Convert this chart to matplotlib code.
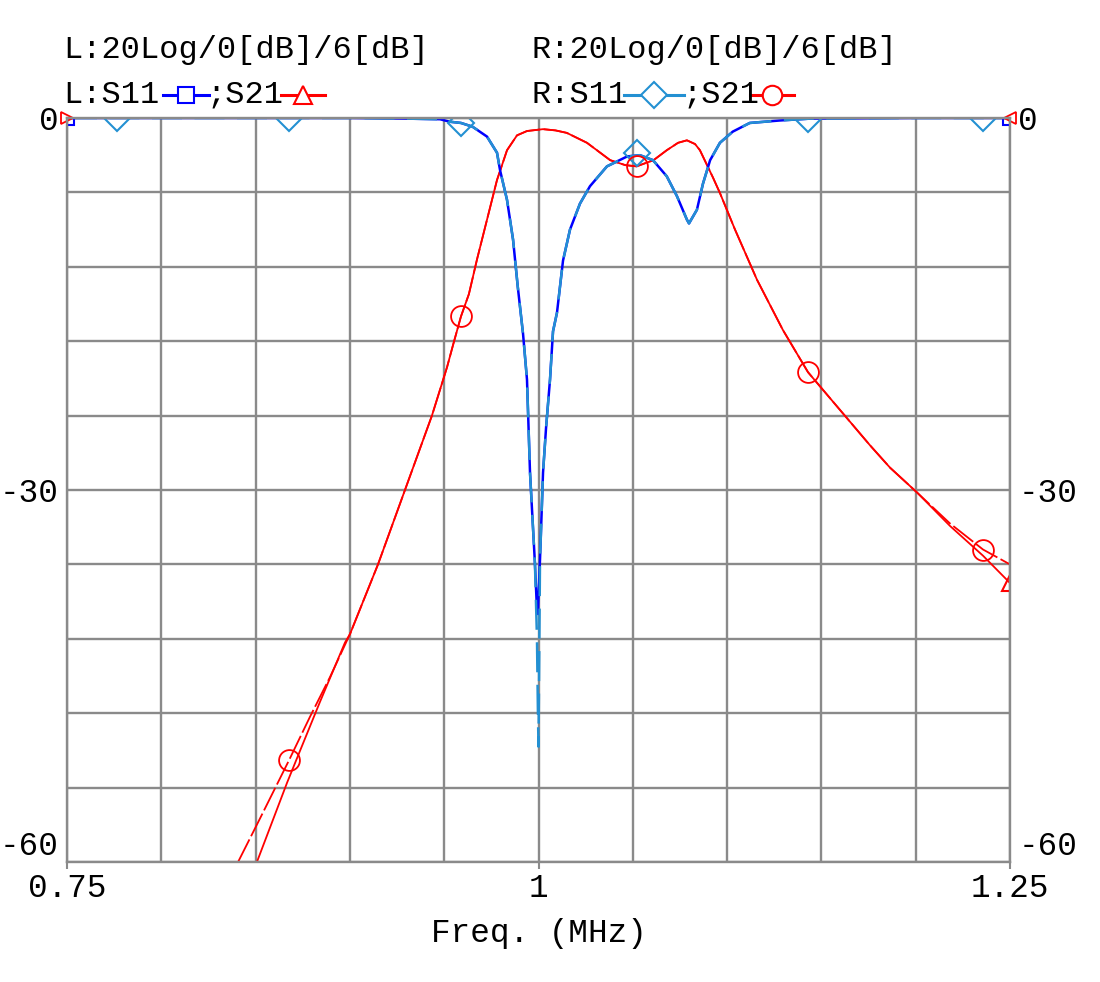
import matplotlib.pyplot as plt
from matplotlib.lines import Line2D

# ---- data (freq in MHz, level in dB) ----
# S21, right-hand trace (circles)
f21_R = [0.8407, 0.8523, 0.8677, 0.8788, 0.8894, 0.9001, 0.9149, 0.9292, 0.9435,
         0.9515, 0.9547, 0.9589, 0.9631, 0.9674, 0.9727, 0.9780, 0.9833, 0.9886,
         0.9939, 1.0024, 1.0090, 1.0150, 1.0257, 1.0380, 1.0460, 1.0520, 1.0610,
         1.0680, 1.0740, 1.0787, 1.0830, 1.0856, 1.0925, 1.0962, 1.1042, 1.1159,
         1.1296, 1.1429, 1.1546, 1.1652, 1.1758, 1.1864, 1.2007, 1.2182, 1.2357,
         1.2500]
s21_R = [-60.0, -56.5, -51.8, -48.3, -45.1, -41.6, -36.0, -30.0, -24.0,
         -20.1, -18.3, -16.0, -14.2, -11.4, -8.2, -5.0, -2.6, -1.4,
         -1.05, -0.9, -1.0, -1.2, -2.0, -3.4, -3.8, -3.9, -3.4,
         -2.6, -2.0, -1.8, -2.1, -2.6, -4.8, -6.05, -9.0, -13.06,
         -17.1, -20.5, -22.6, -24.5, -26.4, -28.2, -30.2, -32.7, -34.8,
         -36.0]

# S21, left-hand trace (triangles): differs only in the skirts
f21_L = [0.8507, 0.8667, 0.8723, 0.8841, 0.8974] + f21_R[5:-3] + [1.2182, 1.2357, 1.2500]
s21_L = [-60.0, -53.6, -51.5, -47.1, -42.3] + s21_R[5:-3] + [-32.9, -35.3, -37.5]

# S11 (both traces share the frequency points)
f11 = [0.75, 0.80, 0.85, 0.90, 0.93, 0.9478, 0.953, 0.9589, 0.965, 0.9727,
       0.978, 0.9796, 0.9833, 0.9865, 0.989, 0.9918, 0.9939, 0.9955, 0.9981,
       0.9992, 0.9997, 1.0000, 1.0008, 1.0024, 1.0040, 1.0061, 1.0077, 1.0098,
       1.0130, 1.0167, 1.0220, 1.0273, 1.0363, 1.0470, 1.0538, 1.0607, 1.0680,
       1.0734, 1.0787, 1.0798, 1.0840, 1.0872, 1.0910, 1.0962, 1.1030, 1.1120,
       1.1280, 1.1440, 1.20, 1.25]
s11_R = [0, 0, 0, 0, -0.05, -0.1, -0.3, -0.4, -0.7, -1.5,
         -2.8, -4.2, -6.6, -9.8, -13.6, -17.4, -21.1, -28.6, -35.9,
         -42.0, -48.0, -50.7, -35.6, -28.6, -25.0, -21.1, -17.2, -15.7,
         -11.5, -9.0, -6.9, -5.5, -3.9, -3.1, -3.0, -3.4, -4.7,
         -6.3, -8.2, -8.5, -7.4, -5.3, -3.4, -2.0, -1.1, -0.4,
         -0.2, -0.05, 0, 0]
s11_L = s11_R[:19] + [-39.7, -40.0, -38.5] + s11_R[22:]

# marker points of the right-hand traces
f_mark = [0.7765, 0.8677, 0.9589, 1.0520, 1.1429, 1.2357]
s11_mark = [0, 0, -0.4, -2.8, -0.05, 0]
f_mark21 = [0.8677, 0.9589, 1.0520, 1.1429, 1.2357]
s21_mark = [-51.8, -16.0, -3.9, -20.5, -34.8]

RED = '#ff0000'
BLUE = '#0000ff'
LBLUE = '#2390d2'
GRID = '#8a8a8a'
FONT = 'Liberation Mono'
FS = 23.5
FS_HEAD = 23

W, H = 1100, 982
fig = plt.figure(figsize=(W / 100, H / 100), dpi=100)
ax = fig.add_axes([67 / W, (H - 862) / H, 943 / W, 744 / H])

ax.plot(f21_L, s21_L, color=RED, lw=1.3)
ax.plot(f21_R, s21_R, color=RED, lw=1.3, dashes=(14, 2))
ax.plot(f11, s11_L, color=BLUE, lw=1.8)
ax.plot(f11, s11_R, color=LBLUE, lw=1.8, dashes=(12, 5))

# markers
ax.plot([f11[0], f11[-1]], [s11_L[0], s11_L[-1]], ls='none', marker='s', ms=10,
        mfc='none', mec=BLUE, mew=1.5)
ax.plot([f21_L[-1]], [s21_L[-1]], ls='none', marker='^', ms=11,
        mfc='none', mec=RED, mew=1.5)
ax.plot(f_mark, s11_mark, ls='none', marker='D', ms=13, mfc='none', mec=LBLUE, mew=1.5)
ax.plot(f_mark21, s21_mark, ls='none', marker='o', ms=15, mfc='none', mec=RED, mew=1.3)
ax.plot([0.75], [0], ls='none', marker='>', ms=8, mfc='none', mec=RED, mew=1.3, clip_on=False)
ax.plot([1.25], [0], ls='none', marker='<', ms=8, mfc='none', mec=RED, mew=1.3, clip_on=False)

ax.set_xlim(0.75, 1.25)
ax.set_ylim(-60, 0)
ax.set_xticks([0.75, 1.0, 1.25])
ax.set_xticklabels(['0.75', '1', '1.25'])
ax.set_xticks([0.75 + 0.05 * i for i in range(11)], minor=True)
ax.set_yticks([0, -30, -60])
ax.set_yticklabels(['0', '-30', '-60'])
ax.set_yticks([-6 * i for i in range(11)], minor=True)
ax.grid(which='both', color=GRID, lw=1.7)
ax.set_axisbelow(True)
for s in ax.spines.values():
    s.set_color(GRID)
    s.set_linewidth(1.7)

ax.tick_params(axis='x', which='major', length=5, width=1.5, color=GRID, pad=3,
               labelsize=FS)
ax.tick_params(axis='y', which='major', length=0, pad=6, labelsize=FS,
               left=True, right=True, labelleft=True, labelright=True)
ax.tick_params(which='minor', length=0)
for lab in ax.get_xticklabels() + ax.get_yticklabels():
    lab.set_family(FONT)
for t in ax.yaxis.get_major_ticks():
    t.label2.set_family(FONT)
    t.label2.set_fontsize(FS)
    if t.get_loc() == -60:
        t.label1.set_va('bottom')
        t.label2.set_va('bottom')

ax.set_xlabel('Freq. (MHz)', family=FONT, fontsize=FS, labelpad=10)


def fx(px):
    return px / W


def fy(py):
    return 1 - py / H


# header text
fig.text(fx(63), fy(50), 'L:20Log/0[dB]/6[dB]', family=FONT, fontsize=FS_HEAD, va='center')
fig.text(fx(532), fy(50), 'R:20Log/0[dB]/6[dB]', family=FONT, fontsize=FS_HEAD, va='center')
fig.text(fx(63), fy(95), 'L:S11', family=FONT, fontsize=FS_HEAD, va='center')
fig.text(fx(207), fy(95), ';S21', family=FONT, fontsize=FS_HEAD, va='center')
fig.text(fx(532), fy(95), 'R:S11', family=FONT, fontsize=FS_HEAD, va='center')
fig.text(fx(682), fy(95), ';S21', family=FONT, fontsize=FS_HEAD, va='center')


def key(x0, x1, color, marker, ms):
    y = fy(95)
    fig.add_artist(Line2D([fx(x0), fx(x1)], [y, y], color=color, lw=2.2,
                          transform=fig.transFigure))
    fig.add_artist(Line2D([fx((x0 + x1) / 2)], [y], ls='none', marker=marker, ms=ms,
                          mfc='white', mec=color, mew=1.5, transform=fig.transFigure))


key(163, 209, BLUE, 's', 11)
key(281, 325, RED, '^', 13)
key(624, 684, LBLUE, 'D', 13)
key(750, 794, RED, 'o', 14)

fig.savefig('out.png', dpi=100)
